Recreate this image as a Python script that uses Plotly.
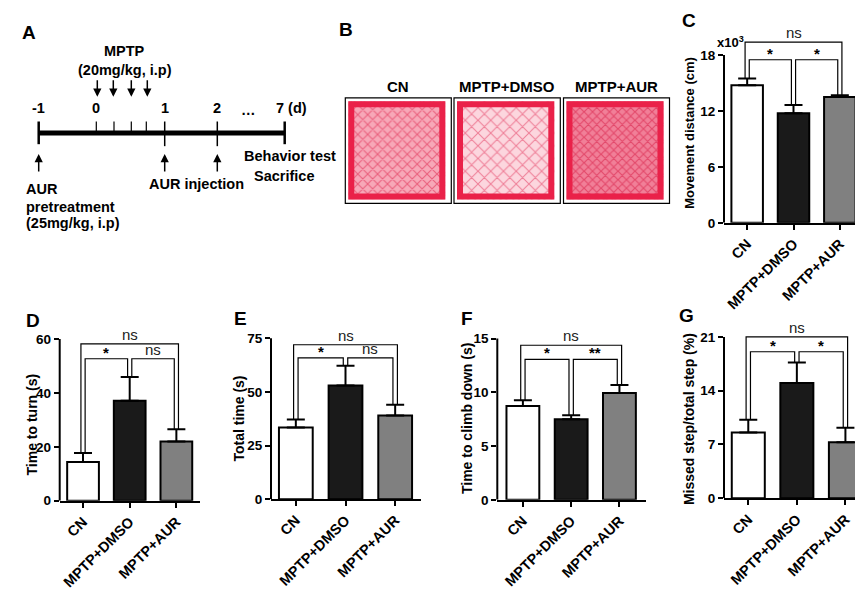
import plotly.graph_objects as go

W, H = 863, 611
FONT = "Liberation Sans"

# ---------------- data ----------------
categories = ["CN", "MPTP+DMSO", "MPTP+AUR"]
bar_colors = ["#ffffff", "#1a1a1a", "#808080"]

movement_mean = [14.76, 11.76, 13.5]      # x10^3 cm
movement_sem = [0.74, 0.89, 0.2]
turn_mean = [14.4, 37.1, 22.0]
turn_sem = [3.3, 8.8, 4.5]
total_mean = [33.4, 53.0, 39.0]
total_sem = [3.8, 9.2, 5.0]
climb_mean = [8.72, 7.5, 9.94]
climb_sem = [0.55, 0.36, 0.74]
missed_mean = [8.57, 15.0, 7.29]
missed_sem = [1.63, 2.66, 1.88]

# significance: (CN vs DMSO, DMSO vs AUR, CN vs AUR)
sig_C = ["*", "*", "ns"]
sig_D = ["*", "ns", "ns"]
sig_E = ["*", "ns", "ns"]
sig_F = ["*", "**", "ns"]
sig_G = ["*", "*", "ns"]

# bracket heights (inner, outer) in data units
brk_C = [17.5, 19.4]
brk_D = [52.7, 58.2]
brk_E = [65.9, 72.0]
brk_F = [13.07, 14.38]
brk_G = [19.07, 21.0]

ticks_C = [0, 6, 12, 18]
ticks_D = [0, 20, 40, 60]
ticks_E = [0, 25, 50, 75]
ticks_F = [0, 5, 10, 15]
ticks_G = [0, 7, 14, 21]

title_C = "Movement distance (cm)"
title_D = "Time to turn (s)"
title_E = "Total time (s)"
title_F = "Time to climb down (s)"
title_G = "Missed step/total step (%)"

timeline_days = ["-1", "0", "1", "2", "\u2026", "7 (d)"]
track_groups = ["CN", "MPTP+DMSO", "MPTP+AUR"]


def fx(px):
    return px / W


def fy(py):
    return 1 - py / H


# layout geometry of bar panels (pixels)
panels = [
    dict(letter="C", mean=movement_mean, sem=movement_sem, sig=sig_C, brk=brk_C, ticks=ticks_C,
         title=title_C, xdom=(716, 855), ybot=217.7, yaxtop=47.7, domtop=16, xr=(-0.5, 2.5),
         tpos=(681.5, 127), tsize=13, lpos=(681, 13)),
    dict(letter="D", mean=turn_mean, sem=turn_sem, sig=sig_D, brk=brk_D, ticks=ticks_D,
         title=title_D, xdom=(51.7, 191.7), ybot=499.3, yaxtop=335.5, domtop=316, xr=(-0.5, 2.5),
         tpos=(24, 422), tsize=14, lpos=(25, 316.5)),
    dict(letter="E", mean=total_mean, sem=total_sem, sig=sig_E, brk=brk_E, ticks=ticks_E,
         title=title_E, xdom=(263, 413), ybot=497.7, yaxtop=334.7, domtop=316, xr=(-0.5, 2.52),
         tpos=(231, 416), tsize=14, lpos=(232, 315)),
    dict(letter="F", mean=climb_mean, sem=climb_sem, sig=sig_F, brk=brk_F, ticks=ticks_F,
         title=title_F, xdom=(489.3, 638), ybot=498.3, yaxtop=335, domtop=316, xr=(-0.53, 2.55),
         tpos=(459, 416.5), tsize=14, lpos=(458.5, 315)),
    dict(letter="G", mean=missed_mean, sem=missed_sem, sig=sig_G, brk=brk_G, ticks=ticks_G,
         title=title_G, xdom=(716, 861.7), ybot=496.7, yaxtop=333.3, domtop=310, xr=(-0.5, 2.5),
         tpos=(681, 416.5), tsize=14, lpos=(678.5, 312)),
]

fig = go.Figure()
layout = dict(width=W, height=H, margin=dict(l=0, r=0, t=0, b=0),
              paper_bgcolor="white", plot_bgcolor="rgba(0,0,0,0)", showlegend=False)
shapes = []
annotations = []

xpos = [0, 1, 2]
leg = 0.045
for i, p in enumerate(panels, start=1):
    xa = "x" if i == 1 else f"x{i}"
    ya = "y" if i == 1 else f"y{i}"
    xkey = "xaxis" if i == 1 else f"xaxis{i}"
    ykey = "yaxis" if i == 1 else f"yaxis{i}"
    ppu = (p["ybot"] - p["yaxtop"]) / p["ticks"][-1]
    rtop = (p["ybot"] - p["domtop"]) / ppu
    layout[xkey] = dict(domain=[fx(p["xdom"][0]), fx(p["xdom"][1])], range=list(p["xr"]),
                        anchor=ya, tickvals=xpos, ticktext=categories, tickangle=-45,
                        tickfont=dict(family=FONT, size=14.5, color="black", weight="bold"),
                        ticks="outside", ticklen=5, tickwidth=1.5, tickcolor="black",
                        showline=True, linewidth=2, linecolor="black",
                        showgrid=False, zeroline=False, fixedrange=True)
    layout[ykey] = dict(domain=[fy(p["ybot"]), fy(p["domtop"])], range=[0, rtop], anchor=xa,
                        tickvals=p["ticks"], ticks="outside", ticklen=5, tickwidth=2,
                        tickcolor="black",
                        tickfont=dict(family=FONT, size=13.5, color="black", weight="bold"),
                        showline=False, showgrid=False, zeroline=False, fixedrange=True)
    # visible y axis line only up to the last tick
    shapes.append(dict(type="line", xref=f"{xa} domain", yref=ya, x0=0, x1=0,
                       y0=0, y1=p["ticks"][-1], line=dict(color="black", width=2)))
    fig.add_trace(go.Bar(x=xpos, y=p["mean"], width=0.68, xaxis=xa, yaxis=ya,
                         marker=dict(color=bar_colors, line=dict(color="black", width=2)),
                         error_y=dict(type="data", array=p["sem"], arrayminus=[0, 0, 0],
                                      symmetric=False, color="black", thickness=2, width=9),
                         hoverinfo="skip"))
    tops = [m + s for m, s in zip(p["mean"], p["sem"])]
    hin, hout = p["brk"]
    brackets = [
        ([xpos[0] + leg, xpos[0] + leg, xpos[1] - leg, xpos[1] - leg], [tops[0], hin, hin, tops[1]]),
        ([xpos[1] + leg, xpos[1] + leg, xpos[2] - leg, xpos[2] - leg], [tops[1], hin, hin, tops[2]]),
        ([xpos[0] - leg, xpos[0] - leg, xpos[2] + leg, xpos[2] + leg], [tops[0], hout, hout, tops[2]]),
    ]
    for bx, by in brackets:
        fig.add_trace(go.Scatter(x=bx, y=by, mode="lines", xaxis=xa, yaxis=ya,
                                 line=dict(color="black", width=1.2), hoverinfo="skip"))
    label_pos = [((xpos[0] + xpos[1]) / 2, hin), ((xpos[1] + xpos[2]) / 2, hin),
                 ((xpos[0] + xpos[2]) / 2, hout)]
    for (lx, ly), txt in zip(label_pos, p["sig"]):
        if txt == "ns":
            annotations.append(dict(x=lx, y=ly, xref=xa, yref=ya, text="ns", showarrow=False,
                                    xanchor="center", yanchor="bottom", yshift=-1,
                                    font=dict(family=FONT, size=15, color="#222")))
        else:
            annotations.append(dict(x=lx, y=ly, xref=xa, yref=ya, text=txt, showarrow=False,
                                    xanchor="center", yanchor="bottom", yshift=-4,
                                    font=dict(family=FONT, size=15, color="black", weight="bold")))
    annotations.append(dict(x=fx(p["tpos"][0]), y=fy(p["tpos"][1]), xref="paper", yref="paper",
                            text=p["title"], textangle=-90, showarrow=False,
                            xanchor="center", yanchor="middle",
                            font=dict(family=FONT, size=p["tsize"], color="black", weight="bold")))
    annotations.append(dict(x=fx(p["lpos"][0]), y=fy(p["lpos"][1]), xref="paper", yref="paper",
                            text=p["letter"], showarrow=False, xanchor="center", yanchor="middle",
                            font=dict(family=FONT, size=19, color="black", weight="bold")))

# x10^3 label for panel C
annotations.append(dict(x=fx(722), y=fy(34), xref="paper", yref="paper", text="x10<sup>3</sup>",
                        showarrow=False, xanchor="center", yanchor="middle",
                        font=dict(family=FONT, size=13, color="black", weight="bold")))

# ---------------- Panel A: schematic ----------------
def pline(x0, y0, x1, y1, w, color="black"):
    shapes.append(dict(type="line", xref="paper", yref="paper", x0=fx(x0), y0=fy(y0),
                       x1=fx(x1), y1=fy(y1), line=dict(color=color, width=w)))


def ptext(x, y, text, size=14.5, xanchor="center", weight="bold"):
    annotations.append(dict(x=fx(x), y=fy(y), xref="paper", yref="paper", text=text,
                            showarrow=False, xanchor=xanchor, yanchor="middle",
                            font=dict(family=FONT, size=size, color="black", weight=weight)))


pline(30.7, 126.7, 276.7, 126.7, 5)
pline(30.7, 115, 30.7, 138, 2.5)
pline(276.7, 115, 276.7, 138, 2.5)
for tx in [88.3, 106, 123.3, 138.3]:
    pline(tx, 115, tx, 127, 1.2)
for tx in [156.7, 209.3]:
    pline(tx, 115, tx, 140, 1.5)

day_x = [30.7, 88.3, 156.7, 209.3, 240, 283]
for d, dx in zip(timeline_days, day_x):
    ptext(dx, 101.7 if d != "\u2026" else 103, d)

for ax_ in [89.3, 105.3, 123.3, 139.3]:
    annotations.append(dict(x=fx(ax_), y=fy(90), xref="paper", yref="paper", text="",
                            showarrow=True, ax=0, ay=-18, arrowhead=2, arrowsize=1.1,
                            arrowwidth=1.5, arrowcolor="black"))
for ax_ in [30.7, 156.7, 209.3]:
    annotations.append(dict(x=fx(ax_), y=fy(148), xref="paper", yref="paper", text="",
                            showarrow=True, ax=0, ay=19, arrowhead=2, arrowsize=1.1,
                            arrowwidth=1.5, arrowcolor="black"))

ptext(20.5, 24.7, "A", size=19)
ptext(116.7, 43.3, "MPTP")
ptext(116.7, 62.7, "(20mg/kg, i.p)")
ptext(16, 183.3, "AUR", xanchor="left")
ptext(16, 201.7, "pretreatment", xanchor="left")
ptext(16, 218.3, "(25mg/kg, i.p)", xanchor="left")
ptext(188.3, 178.3, "AUR injection")
ptext(234, 150, "Behavior test", xanchor="left")
ptext(276.3, 170, "Sacrifice")

# ---------------- Panel B: track plots ----------------
layout["xaxis6"] = dict(domain=[fx(330), fx(665)], range=[330, 665], visible=False,
                        anchor="y6", fixedrange=True)
layout["yaxis6"] = dict(domain=[fy(200), fy(88)], range=[200, 88], visible=False,
                        anchor="x6", fixedrange=True)
box_x = [(337.3, 443.3), (446, 552.3), (555.5, 661.5)]
track_style = [
    dict(bg="#f7a8b8", fg="#dc1a44", size=7, sol=0.3),
    dict(bg="#fcd6de", fg="#e22a52", size=9, sol=0.22),
    dict(bg="#f17f98", fg="#d4123c", size=6, sol=0.35),
]
by0, by1 = 91, 198
for g, (x0, x1), st in zip(track_groups, box_x, track_style):
    ix0, ix1, iy0, iy1 = x0 + 3, x1 - 6, by0 + 3.5, by1 - 4
    fig.add_trace(go.Scatter(x=[ix0, ix1, ix1, ix0, ix0], y=[iy0, iy0, iy1, iy1, iy0],
                             mode="lines", fill="toself", xaxis="x6", yaxis="y6",
                             fillcolor=st["bg"], line=dict(width=0),
                             fillpattern=dict(shape="x", fgcolor=st["fg"], bgcolor=st["bg"],
                                              size=st["size"], solidity=st["sol"]),
                             hoverinfo="skip"))
    shapes.append(dict(type="rect", xref="x6", yref="y6", x0=ix0 + 3, x1=ix1 - 3,
                       y0=iy0 + 3, y1=iy1 - 3, line=dict(color="#ea2149", width=6)))
    shapes.append(dict(type="rect", xref="x6", yref="y6", x0=x0, x1=x1, y0=by0, y1=by1,
                       line=dict(color="black", width=1.2)))
    ptext((x0 + x1) / 2, 79.3, g, size=15)

ptext(338, 22, "B", size=19)

layout["shapes"] = shapes
layout["annotations"] = annotations
fig.update_layout(**layout)
fig.write_html("out.html")
